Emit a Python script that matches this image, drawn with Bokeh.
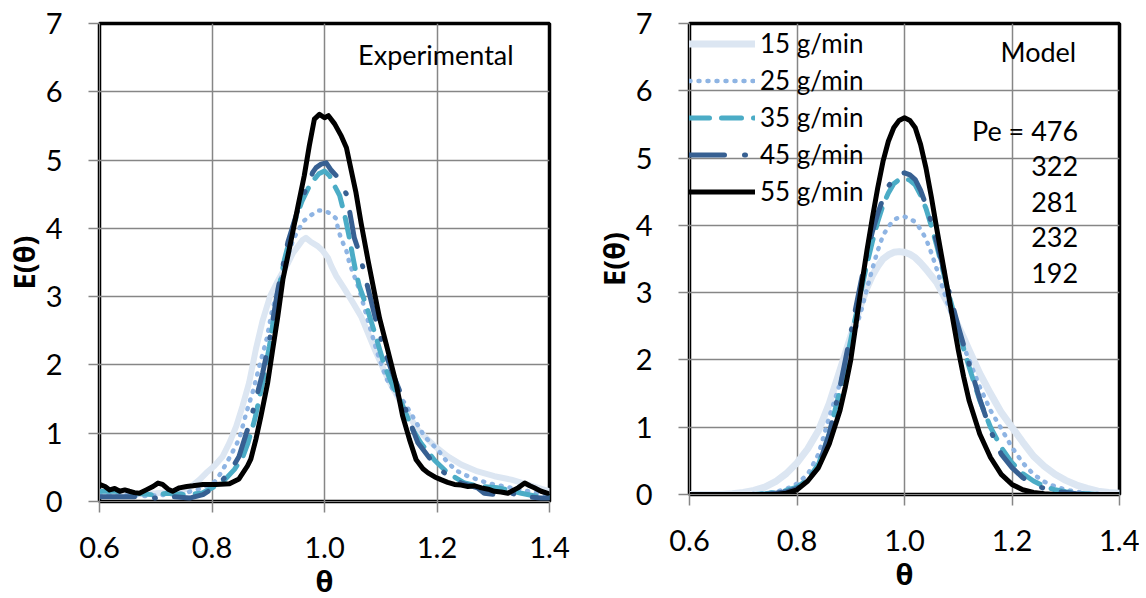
from bokeh.plotting import figure
from bokeh.models import Range1d, FixedTicker, PrintfTickFormatter, Legend, LegendItem, Label
from bokeh.layouts import row
from bokeh.embed import file_html
from bokeh.resources import INLINE

# ---------------- data ----------------
flow_labels = ["15 g/min", "25 g/min", "35 g/min", "45 g/min", "55 g/min"]
pe_values = [476, 322, 281, 232, 192]
x_ticks = [0.6, 0.8, 1.0, 1.2, 1.4]
y_ticks = [0, 1, 2, 3, 4, 5, 6, 7]

# Model curves (right panel), sampled on a common theta grid (finer near the peak)
theta_model = [0.60, 0.62, 0.64, 0.66, 0.68, 0.70, 0.72, 0.74, 0.76, 0.78,
               0.80, 0.82, 0.84, 0.86, 0.88,
               0.89, 0.90, 0.91, 0.92, 0.93, 0.94, 0.95, 0.96, 0.97, 0.98,
               0.99, 1.00, 1.01, 1.02, 1.03, 1.04, 1.05, 1.06, 1.07, 1.08,
               1.09, 1.10, 1.11,
               1.12, 1.14, 1.16, 1.18, 1.20, 1.22, 1.24, 1.26, 1.28, 1.30,
               1.32, 1.34, 1.36, 1.38, 1.40]
model_15 = [0, 0, 0, 0, 0.01, 0.03, 0.06, 0.11, 0.19, 0.31,
            0.47, 0.68, 0.95, 1.35, 1.85,
            2.1, 2.35, 2.6, 2.85, 3.07, 3.25, 3.39, 3.5, 3.56, 3.6,
            3.61, 3.6, 3.57, 3.52, 3.44, 3.35, 3.25, 3.15, 3.0, 2.85,
            2.68, 2.5, 2.33,
            2.15, 1.8, 1.5, 1.22, 1.0, 0.78, 0.57, 0.42, 0.3, 0.21,
            0.14, 0.09, 0.05, 0.03, 0.02]
model_25 = [0, 0, 0, 0, 0, 0, 0.01, 0.02, 0.04, 0.08,
            0.16, 0.3, 0.6, 1.15, 1.65,
            1.93, 2.2, 2.48, 2.75, 3.05, 3.35, 3.62, 3.85, 3.98, 4.08,
            4.12, 4.13, 4.1, 4.05, 3.94, 3.8, 3.59, 3.35, 3.1, 2.85,
            2.62, 2.4, 2.2,
            2.0, 1.6, 1.25, 0.98, 0.7, 0.47, 0.3, 0.19, 0.12, 0.07,
            0.04, 0.02, 0.01, 0, 0]
model_35 = [0, 0, 0, 0, 0, 0, 0, 0.01, 0.03, 0.06,
            0.11, 0.22, 0.45, 0.9, 1.55,
            1.92, 2.3, 2.68, 3.05, 3.42, 3.75, 4.05, 4.3, 4.48, 4.62,
            4.68, 4.7, 4.67, 4.6, 4.45, 4.25, 3.99, 3.7, 3.38, 3.05,
            2.75, 2.45, 2.17,
            1.9, 1.4, 1.0, 0.7, 0.47, 0.31, 0.2, 0.12, 0.07, 0.04,
            0.02, 0.01, 0, 0, 0]
model_45 = [0, 0, 0, 0, 0, 0, 0, 0, 0.02, 0.04,
            0.09, 0.2, 0.42, 0.9, 1.6,
            2.0, 2.4, 2.8, 3.2, 3.57, 3.9, 4.17, 4.4, 4.58, 4.7,
            4.76, 4.78, 4.75, 4.68, 4.52, 4.3, 4.04, 3.75, 3.43, 3.1,
            2.8, 2.5, 2.22,
            1.95, 1.42, 0.95, 0.6, 0.4, 0.25, 0.15, 0.09, 0.05, 0.03,
            0.01, 0, 0, 0, 0]
model_55 = [0, 0, 0, 0, 0, 0, 0, 0, 0, 0.02,
            0.07, 0.2, 0.4, 0.75, 1.25,
            1.6, 2.0, 2.55, 3.1, 3.62, 4.1, 4.55, 4.95, 5.25, 5.45,
            5.56, 5.6, 5.56, 5.45, 5.2, 4.85, 4.42, 3.95, 3.5, 3.05,
            2.6, 2.15, 1.75,
            1.4, 0.9, 0.55, 0.3, 0.15, 0.07, 0.03, 0.01, 0, 0,
            0, 0, 0, 0, 0]

# Experimental curves (left panel): (theta, E) pairs
exp_15 = [(0.600, 0.10), (0.650, 0.10), (0.700, 0.12), (0.740, 0.15), (0.760, 0.20),
          (0.778, 0.32), (0.790, 0.42), (0.804, 0.52), (0.819, 0.66), (0.831, 0.86),
          (0.843, 1.10), (0.854, 1.39), (0.866, 1.74), (0.878, 2.23), (0.890, 2.65),
          (0.903, 3.00), (0.915, 3.20), (0.925, 3.35), (0.935, 3.49), (0.944, 3.64),
          (0.953, 3.74), (0.961, 3.83), (0.967, 3.86), (0.976, 3.80), (0.988, 3.74),
          (0.997, 3.67), (1.006, 3.57), (1.012, 3.45), (1.021, 3.30), (1.035, 3.12),
          (1.050, 2.92), (1.065, 2.71), (1.089, 2.23), (1.113, 1.79), (1.136, 1.44),
          (1.166, 1.05), (1.196, 0.81), (1.219, 0.66), (1.243, 0.54), (1.272, 0.44),
          (1.302, 0.37), (1.332, 0.32), (1.360, 0.25), (1.380, 0.20), (1.400, 0.15)]
exp_25 = [(0.600, 0.10), (0.640, 0.10), (0.680, 0.08), (0.720, 0.10), (0.750, 0.12),
          (0.772, 0.17), (0.790, 0.22), (0.805, 0.29), (0.816, 0.42), (0.831, 0.64),
          (0.840, 0.78), (0.849, 0.93), (0.861, 1.30), (0.873, 1.62), (0.885, 2.01),
          (0.897, 2.37), (0.906, 2.76), (0.920, 3.20), (0.935, 3.60), (0.945, 3.85),
          (0.956, 4.01), (0.961, 4.09), (0.970, 4.16), (0.988, 4.26), (1.000, 4.26),
          (1.012, 4.21), (1.021, 4.14), (1.024, 3.99), (1.030, 3.84), (1.039, 3.67),
          (1.044, 3.50), (1.053, 3.30), (1.062, 3.10), (1.080, 2.57), (1.095, 2.15),
          (1.110, 1.80), (1.125, 1.60), (1.142, 1.45), (1.160, 1.20), (1.178, 0.95),
          (1.201, 0.76), (1.219, 0.57), (1.235, 0.45), (1.255, 0.37), (1.290, 0.27),
          (1.320, 0.22), (1.350, 0.17), (1.380, 0.12), (1.400, 0.10)]
exp_35 = [(0.600, 0.15), (0.635, 0.15), (0.664, 0.12), (0.693, 0.10), (0.723, 0.12),
          (0.752, 0.10), (0.782, 0.12), (0.805, 0.22), (0.823, 0.32), (0.840, 0.47),
          (0.855, 0.66), (0.864, 0.86), (0.876, 1.20), (0.890, 1.74), (0.902, 2.27),
          (0.914, 2.91), (0.929, 3.55), (0.945, 4.05), (0.960, 4.40), (0.975, 4.65),
          (0.990, 4.80), (1.000, 4.84), (1.009, 4.77), (1.018, 4.62), (1.027, 4.48),
          (1.036, 4.19), (1.044, 3.87), (1.050, 3.60), (1.056, 3.35), (1.062, 3.15),
          (1.075, 2.85), (1.090, 2.45), (1.107, 1.98), (1.119, 1.74), (1.139, 1.40),
          (1.157, 1.05), (1.172, 0.85), (1.196, 0.60), (1.219, 0.42), (1.249, 0.27),
          (1.278, 0.22), (1.308, 0.20), (1.326, 0.17), (1.350, 0.12), (1.380, 0.07),
          (1.400, 0.06)]
exp_45 = [(0.600, 0.07), (0.630, 0.07), (0.665, 0.07), (0.701, 0.05), (0.730, 0.07),
          (0.760, 0.05), (0.784, 0.10), (0.807, 0.22), (0.831, 0.42), (0.848, 0.66),
          (0.863, 1.05), (0.872, 1.30), (0.881, 1.59), (0.890, 1.88), (0.902, 2.35),
          (0.917, 3.10), (0.935, 3.80), (0.950, 4.20), (0.958, 4.40), (0.967, 4.57),
          (0.973, 4.67), (0.979, 4.82), (0.985, 4.89), (0.994, 4.94), (1.003, 4.96),
          (1.012, 4.85), (1.021, 4.77), (1.030, 4.65), (1.039, 4.50), (1.044, 4.28),
          (1.053, 3.86), (1.062, 3.64), (1.075, 3.20), (1.090, 2.70), (1.105, 2.25),
          (1.120, 1.90), (1.137, 1.55), (1.142, 1.40), (1.155, 1.10), (1.166, 0.86),
          (1.189, 0.61), (1.213, 0.42), (1.243, 0.27), (1.272, 0.20), (1.284, 0.12),
          (1.308, 0.10), (1.332, 0.12), (1.356, 0.07), (1.385, 0.05), (1.400, 0.05)]
exp_55 = [(0.600, 0.25), (0.610, 0.22), (0.618, 0.17), (0.627, 0.19), (0.636, 0.15),
          (0.645, 0.17), (0.653, 0.15), (0.662, 0.13), (0.671, 0.12), (0.683, 0.17),
          (0.695, 0.22), (0.704, 0.27), (0.712, 0.25), (0.722, 0.18), (0.730, 0.15),
          (0.742, 0.20), (0.755, 0.22), (0.766, 0.23), (0.784, 0.25), (0.807, 0.25),
          (0.831, 0.26), (0.848, 0.33), (0.863, 0.52), (0.869, 0.62), (0.878, 0.91),
          (0.887, 1.25), (0.899, 1.74), (0.908, 2.23), (0.917, 2.71), (0.926, 3.25),
          (0.941, 3.84), (0.953, 4.33), (0.964, 4.77), (0.973, 5.21), (0.982, 5.60),
          (0.991, 5.67), (1.000, 5.62), (1.007, 5.65), (1.018, 5.53), (1.030, 5.35),
          (1.039, 5.18), (1.047, 4.87), (1.056, 4.52), (1.065, 4.08), (1.077, 3.55),
          (1.089, 3.05), (1.098, 2.68), (1.113, 2.20), (1.127, 1.74), (1.139, 1.25),
          (1.151, 0.91), (1.163, 0.61), (1.175, 0.48), (1.184, 0.42), (1.196, 0.36),
          (1.207, 0.32), (1.219, 0.28), (1.231, 0.25), (1.243, 0.24), (1.255, 0.22),
          (1.267, 0.23), (1.279, 0.20), (1.291, 0.18), (1.302, 0.15), (1.314, 0.14),
          (1.326, 0.12), (1.335, 0.16), (1.344, 0.20), (1.356, 0.27), (1.365, 0.23),
          (1.373, 0.20), (1.385, 0.15), (1.397, 0.12)]

# ---------------- styles ----------------
styles = [
    dict(line_color="#dce6f2", line_width=7, line_dash="solid"),
    dict(line_color="#8eb4e3", line_width=4.5, line_dash="1 8"),
    dict(line_color="#4bacc6", line_width=5, line_dash="20 12"),
    dict(line_color="#376092", line_width=5, line_dash="35 20 1 19"),
    dict(line_color="#000000", line_width=5, line_dash="solid"),
]
TEXT_FONT = "Lato"
GREEK_FONT = "Open Sans"


def base_fig(fw, fh, bl, br, bt, bb):
    p = figure(frame_width=fw, frame_height=fh,
               x_range=Range1d(0.6, 1.4), y_range=Range1d(0, 7),
               output_backend="svg", toolbar_location=None,
               min_border_left=bl, min_border_right=br,
               min_border_top=bt, min_border_bottom=bb)
    p.background_fill_color = "white"
    p.border_fill_color = "white"
    p.outline_line_color = "black"
    p.outline_line_width = 3.5
    p.xaxis.ticker = FixedTicker(ticks=x_ticks)
    p.xaxis.formatter = PrintfTickFormatter(format="%.1f")
    p.yaxis.ticker = FixedTicker(ticks=y_ticks)
    for ax in (p.xaxis[0], p.yaxis[0]):
        ax.major_tick_in = 0
        ax.major_tick_out = 11
        ax.major_tick_line_color = "#868686"
        ax.major_tick_line_width = 1.5
        ax.minor_tick_line_color = None
        ax.axis_line_color = "#868686"
        ax.axis_line_width = 1
        ax.major_label_text_font = TEXT_FONT
        ax.major_label_text_font_size = "29px"
        ax.major_label_text_color = "black"
        ax.axis_label_text_font = GREEK_FONT
        ax.axis_label_text_font_style = "bold"
        ax.axis_label_text_font_size = "29px"
        ax.axis_label_text_color = "black"
    p.xaxis.axis_label = "θ"
    p.yaxis.axis_label = "E(θ)"
    p.xaxis.major_label_standoff = 24
    p.xaxis.axis_label_standoff = 0
    p.yaxis.major_label_standoff = 26
    p.yaxis.axis_label_standoff = 0
    p.grid.grid_line_color = "#868686"
    p.grid.grid_line_width = 1.5
    return p


# ---------------- left: experimental ----------------
p1 = base_fig(450, 478, 98, 41, 21, 99)
exp_series = [exp_15, exp_25, exp_35, exp_45, exp_55]
for data, st in zip(exp_series, styles):
    xs = [d[0] for d in data]
    ys = [d[1] for d in data]
    lw = st["line_width"] if st["line_color"] != "#dce6f2" else 6
    p1.line(xs, ys, line_color=st["line_color"], line_width=lw,
            line_dash=st["line_dash"], line_cap="round", line_join="round")
p1.add_layout(Label(x=1.198, y=6.54, text="Experimental", text_align="center",
                    text_baseline="middle", text_font=TEXT_FONT,
                    text_font_size="27px", text_color="black"))

# ---------------- right: model ----------------
p2 = base_fig(430, 471, 97, 20, 23, 99)
model_series = [model_15, model_25, model_35, model_45, model_55]
items = []
for label, ys, st in zip(flow_labels, model_series, styles):
    r = p2.line(theta_model, ys, line_color=st["line_color"], line_width=st["line_width"],
                line_dash=st["line_dash"], line_cap="round", line_join="round")
    items.append(LegendItem(label=label, renderers=[r]))

legend = Legend(items=items, location=(0, 287), margin=0, padding=0,
                glyph_width=66, glyph_height=31, label_height=31, spacing=5,
                label_standoff=5, border_line_color=None,
                background_fill_alpha=0, label_text_font=TEXT_FONT,
                label_text_font_size="26px", label_text_color="black")
p2.add_layout(legend)

p2.add_layout(Label(x=1.249, y=6.58, text="Model", text_align="center",
                    text_baseline="middle", text_font=TEXT_FONT,
                    text_font_size="27px", text_color="black"))
pe_y0 = 5.41
pe_step = 0.53
for i, pe in enumerate(pe_values):
    txt = ("Pe = %d" % pe) if i == 0 else str(pe)
    p2.add_layout(Label(x=1.323, y=pe_y0 - i * pe_step, text=txt, text_align="right",
                        text_baseline="middle", text_font=TEXT_FONT,
                        text_font_size="27px", text_color="black"))

layout = row(p1, p2)
open("out.html", "w").write(file_html(layout, INLINE))
